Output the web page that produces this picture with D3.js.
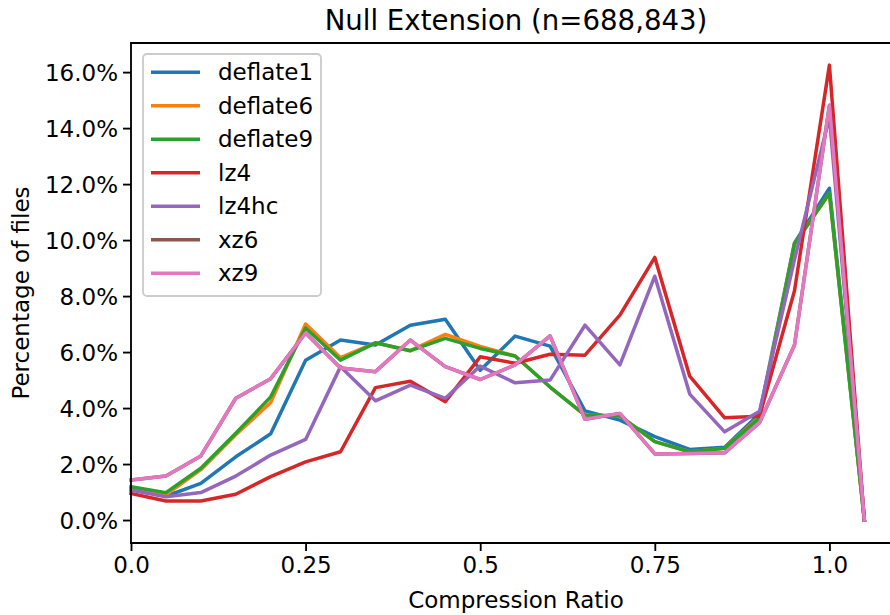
<!DOCTYPE html>
<html>
<head>
<meta charset="utf-8">
<script src="https://cdn.jsdelivr.net/npm/d3@7"></script>
<style>
  body { margin: 0; background: #fff; }
  svg { font-family: "DejaVu Sans", sans-serif; display: block; }
</style>
</head>
<body>
<div id="viz"></div>
<script>
// compression ratio buckets
const ratios = [0, 0.05, 0.1, 0.15, 0.2, 0.25, 0.3, 0.35, 0.4, 0.45, 0.5,
  0.55, 0.6, 0.65, 0.7, 0.75, 0.8, 0.85, 0.9, 0.95, 1.0, 1.05]

// percentage of files per bucket
const deflate1 = [1.1, 0.85, 1.31, 2.26, 3.08, 5.71, 6.43, 6.25, 6.96, 7.17, 5.35, 6.57, 6.21, 3.9, 3.57, 2.98, 2.52, 2.6, 3.8, 9.9, 11.85, 0.0]
const deflate6 = [1.15, 0.9, 1.8, 3.05, 4.2, 7.0, 5.8, 6.33, 6.05, 6.63, 6.2, 5.86, 4.75, 3.75, 3.72, 2.8, 2.44, 2.56, 3.7, 9.86, 11.67, 0.0]
const deflate9 = [1.19, 0.98, 1.85, 3.1, 4.4, 6.86, 5.71, 6.33, 6.05, 6.49, 6.13, 5.86, 4.75, 3.75, 3.72, 2.8, 2.44, 2.56, 3.65, 9.86, 11.67, 0.0]
const lz4 = [0.95, 0.68, 0.68, 0.92, 1.55, 2.08, 2.44, 4.73, 4.96, 4.23, 5.83, 5.6, 5.92, 5.89, 7.32, 9.38, 5.14, 3.65, 3.71, 8.19, 16.25, 0.0]
const lz4hc = [1.07, 0.83, 0.98, 1.57, 2.32, 2.88, 5.48, 4.26, 4.82, 4.35, 5.5, 4.9, 5.0, 6.96, 5.54, 8.71, 4.5, 3.15, 3.89, 9.3, 14.4, 0.0]
const xz6 = [1.43, 1.57, 2.29, 4.35, 5.05, 6.68, 5.43, 5.3, 6.43, 5.48, 5.02, 5.54, 6.58, 3.6, 3.81, 2.36, 2.38, 2.4, 3.48, 6.25, 14.82, 0.0]
const xz9 = [1.43, 1.57, 2.29, 4.35, 5.05, 6.68, 5.43, 5.3, 6.43, 5.48, 5.02, 5.54, 6.58, 3.6, 3.81, 2.36, 2.38, 2.4, 3.48, 6.25, 14.82, 0.0]

const names = ["deflate1", "deflate6", "deflate9", "lz4", "lz4hc", "xz6", "xz9"]
const seriesValues = [deflate1, deflate6, deflate9, lz4, lz4hc, xz6, xz9]
const colors = ["#1f77b4", "#ff7f0e", "#2ca02c", "#d62728", "#9467bd", "#8c564b", "#e377c2"]

const xTicks = [0, 0.25, 0.5, 0.75, 1.0]
const xTickLabels = ["0.0", "0.25", "0.5", "0.75", "1.0"]
const yTicks = [0, 2, 4, 6, 8, 10, 12, 14, 16]

const width = 890, height = 615
const mLeft = 131, mRight = 901, mTop = 43, mBottom = 543
const fontSize = 23

const svg = d3.select("#viz").append("svg").attr("width", width).attr("height", height)

const x = d3.scaleLinear().domain([0, 1.1025]).range([mLeft, mRight])
const y = d3.scaleLinear().domain([-0.82, 17.04]).range([mBottom, mTop])

// lines
const line = d3.line()
  .x((d, i) => x(ratios[i]))
  .y(d => y(d))

svg.append("g")
  .selectAll("path")
  .data(seriesValues)
  .enter()
  .append("path")
  .attr("d", d => line(d))
  .attr("fill", "none")
  .attr("stroke", (d, i) => colors[i])
  .attr("stroke-width", 3.5)
  .attr("stroke-linejoin", "round")
  .attr("stroke-linecap", "square")

// axes
const xAxis = svg.append("g")
  .attr("transform", `translate(0,${mBottom})`)
  .call(d3.axisBottom(x).tickValues(xTicks).tickFormat((d, i) => xTickLabels[i]).tickSize(8).tickSizeOuter(0))
const yAxis = svg.append("g")
  .attr("transform", `translate(${mLeft},0)`)
  .call(d3.axisLeft(y).tickValues(yTicks).tickFormat(d => d.toFixed(1) + "%").tickSize(8).tickSizeOuter(0))

for (const g of [xAxis, yAxis]) {
  g.select(".domain").remove()
  g.selectAll(".tick line").attr("stroke", "#000").attr("stroke-width", 1.85)
  g.selectAll(".tick text").attr("font-size", fontSize).attr("font-family", "DejaVu Sans").attr("fill", "#000")
}
xAxis.selectAll(".tick text").attr("dy", "0.71em").attr("y", 14)
yAxis.selectAll(".tick text").attr("x", -13).attr("dy", "0.35em")

// spines
svg.append("line").attr("x1", mLeft).attr("x2", mLeft).attr("y1", mTop).attr("y2", mBottom)
  .attr("stroke", "#000").attr("stroke-width", 1.85).attr("stroke-linecap", "square")
svg.append("line").attr("x1", mLeft).attr("x2", mRight).attr("y1", mBottom).attr("y2", mBottom)
  .attr("stroke", "#000").attr("stroke-width", 1.85).attr("stroke-linecap", "square")
svg.append("line").attr("x1", mLeft).attr("x2", mRight).attr("y1", mTop).attr("y2", mTop)
  .attr("stroke", "#000").attr("stroke-width", 1.85).attr("stroke-linecap", "square")

// title and labels
svg.append("text")
  .attr("x", (mLeft + mRight) / 2).attr("y", 30)
  .attr("text-anchor", "middle").attr("font-size", 27.6)
  .text("Null Extension (n=688,843)")

svg.append("text")
  .attr("x", (mLeft + mRight) / 2).attr("y", 608)
  .attr("text-anchor", "middle").attr("font-size", fontSize)
  .text("Compression Ratio")

svg.append("text")
  .attr("transform", `translate(29,${(mTop + mBottom) / 2}) rotate(-90)`)
  .attr("text-anchor", "middle").attr("font-size", fontSize)
  .text("Percentage of files")

// legend
const legend = svg.append("g")
legend.append("rect")
  .attr("x", 143).attr("y", 54).attr("width", 178).attr("height", 242)
  .attr("rx", 4).attr("fill", "#fff").attr("fill-opacity", 0.8)
  .attr("stroke", "#cccccc").attr("stroke-width", 1.85)

const entry = legend.selectAll(".entry")
  .data(names)
  .enter()
  .append("g")
  .attr("class", "entry")
  .attr("transform", (d, i) => `translate(0,${72.3 + i * 33.5})`)

entry.append("line")
  .attr("x1", 151).attr("x2", 200)
  .attr("stroke", (d, i) => colors[i]).attr("stroke-width", 3.5)
entry.append("text")
  .attr("x", 218).attr("dy", "0.35em")
  .attr("font-size", fontSize)
  .text(d => d)
</script>
</body>
</html>
